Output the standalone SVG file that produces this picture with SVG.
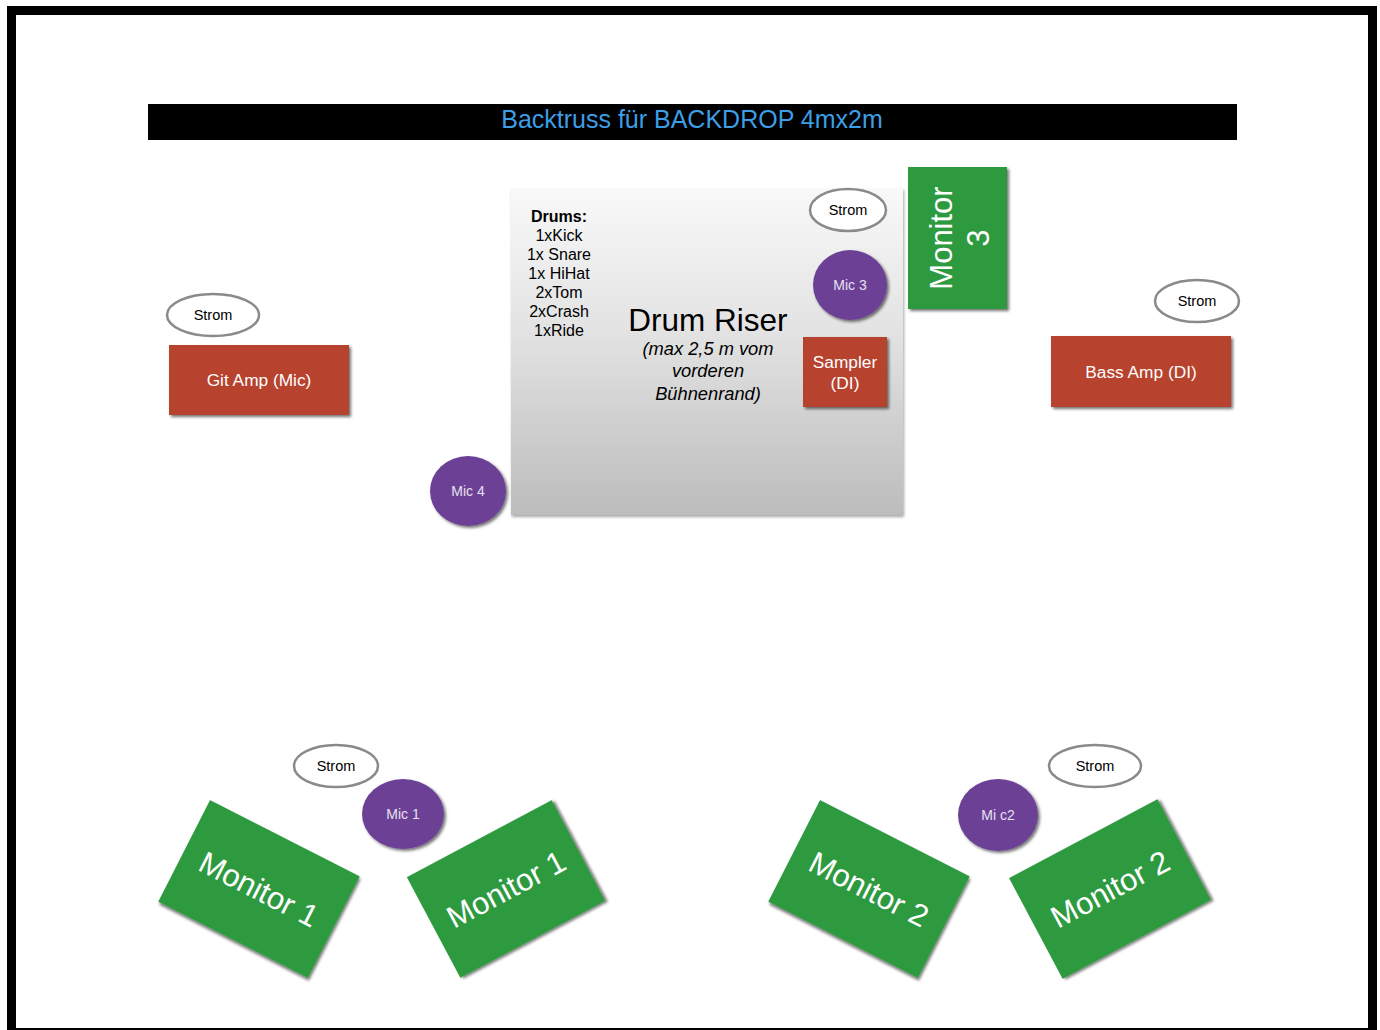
<svg xmlns="http://www.w3.org/2000/svg" width="1380" height="1030" viewBox="0 0 1380 1030">
<style>
text{font-family:"Liberation Sans",Arial,sans-serif}
.strom{fill:#fff;stroke:#8a8a8a;stroke-width:2.5}
.st{font-size:14.5px;fill:#000;text-anchor:middle}
.mic{fill:#6c4095;filter:url(#sh)}
.mt{font-size:14px;fill:#e8e0f0;text-anchor:middle}
.red{fill:#b7432f;filter:url(#sh)}
.rt{font-size:17.3px;fill:#fff;text-anchor:middle}
.green{fill:#2f9a40;filter:url(#sh)}
.gt{font-size:31px;fill:#fff;text-anchor:middle}
.dr{font-size:16px;fill:#000;text-anchor:middle}
.it{font-size:18.3px;font-style:italic;fill:#000;text-anchor:middle}
</style>
<defs>
<filter id="sh" x="-20%" y="-20%" width="150%" height="150%">
<feDropShadow dx="2" dy="2" stdDeviation="1.5" flood-color="#000" flood-opacity="0.55"/>
</filter>
<filter id="sh2" x="-10%" y="-10%" width="120%" height="120%">
<feDropShadow dx="1" dy="2" stdDeviation="1.5" flood-color="#000" flood-opacity="0.35"/>
</filter>
<linearGradient id="rg" x1="0" y1="0" x2="0" y2="1">
<stop offset="0" stop-color="#f9f9f9"/>
<stop offset="0.45" stop-color="#e2e2e2"/>
<stop offset="1" stop-color="#bcbcbc"/>
</linearGradient>
</defs>
<rect x="7" y="6" width="1370" height="1030" fill="#000"/>
<rect x="16" y="15" width="1352" height="1013" fill="#fff"/>
<g id="title">
<rect x="148" y="104" width="1089" height="36" fill="#000"/>
<text x="692" y="128" font-size="25" fill="#3d9ee6" text-anchor="middle">Backtruss für BACKDROP 4mx2m</text>
</g>
<g id="riser">
<rect x="511" y="188" width="392" height="327" fill="url(#rg)" filter="url(#sh2)"/>
<text class="dr" x="559" y="222" font-weight="bold">Drums:</text>
<text class="dr" x="559" y="241">1xKick</text>
<text class="dr" x="559" y="260">1x Snare</text>
<text class="dr" x="559" y="279">1x HiHat</text>
<text class="dr" x="559" y="298">2xTom</text>
<text class="dr" x="559" y="317">2xCrash</text>
<text class="dr" x="559" y="336">1xRide</text>
<text x="708" y="331" font-size="31.5" text-anchor="middle" fill="#000">Drum Riser</text>
<text class="it" x="708" y="355">(max 2,5 m vom</text>
<text class="it" x="708" y="377">vorderen</text>
<text class="it" x="708" y="400">Bühnenrand)</text>
</g>
<g id="strom-riser">
<ellipse class="strom" cx="848" cy="210" rx="38" ry="21"/>
<text class="st" x="848" y="215">Strom</text>
</g>
<g id="mic3">
<ellipse class="mic" cx="850" cy="285" rx="37" ry="35"/>
<text class="mt" x="850" y="290">Mic 3</text>
</g>
<g id="sampler">
<rect class="red" x="803" y="337" width="84" height="70"/>
<text class="rt" x="845" y="368">Sampler</text>
<text class="rt" x="845" y="389">(DI)</text>
</g>
<g id="monitor3">
<rect class="green" x="908" y="167" width="99" height="142"/>
<text class="gt" transform="translate(958,238) rotate(-90)"><tspan x="0" y="-6">Monitor</tspan><tspan x="0" y="31">3</tspan></text>
</g>
<g id="strom-left">
<ellipse class="strom" cx="213" cy="315" rx="46" ry="21"/>
<text class="st" x="213" y="320">Strom</text>
</g>
<g id="gitamp">
<rect class="red" x="169" y="345" width="180" height="70"/>
<text class="rt" x="259" y="386">Git Amp (Mic)</text>
</g>
<g id="mic4">
<ellipse class="mic" cx="468" cy="491" rx="38" ry="35"/>
<text class="mt" x="468" y="496">Mic 4</text>
</g>
<g id="strom-right">
<ellipse class="strom" cx="1197" cy="301" rx="42" ry="21"/>
<text class="st" x="1197" y="306">Strom</text>
</g>
<g id="bassamp">
<rect class="red" x="1051" y="336" width="180" height="71"/>
<text class="rt" x="1141" y="378">Bass Amp (DI)</text>
</g>
<g id="strom-m1">
<ellipse class="strom" cx="336" cy="766" rx="42" ry="21"/>
<text class="st" x="336" y="771">Strom</text>
</g>
<g id="mic1">
<ellipse class="mic" cx="403" cy="814" rx="41" ry="35"/>
<text class="mt" x="403" y="819">Mic 1</text>
</g>
<g id="monitor1-left" transform="translate(259,889) rotate(27)">
<rect class="green" x="-84" y="-57" width="168" height="114"/>
<text class="gt" x="0" y="11">Monitor 1</text>
</g>
<g id="monitor1-right" transform="translate(506,889) rotate(-28)">
<rect class="green" x="-82" y="-57" width="164" height="114"/>
<text class="gt" x="0" y="11">Monitor 1</text>
</g>
<g id="strom-m2">
<ellipse class="strom" cx="1095" cy="766" rx="46" ry="21"/>
<text class="st" x="1095" y="771">Strom</text>
</g>
<g id="mic2">
<ellipse class="mic" cx="998" cy="815" rx="40" ry="36"/>
<text class="mt" x="998" y="820">Mi c2</text>
</g>
<g id="monitor2-left" transform="translate(869,889) rotate(27)">
<rect class="green" x="-84" y="-57" width="168" height="114"/>
<text class="gt" x="0" y="11">Monitor 2</text>
</g>
<g id="monitor2-right" transform="translate(1110,889) rotate(-28)">
<rect class="green" x="-84" y="-57" width="168" height="114"/>
<text class="gt" x="0" y="11">Monitor 2</text>
</g>
<g id="connectors"></g>
</svg>
